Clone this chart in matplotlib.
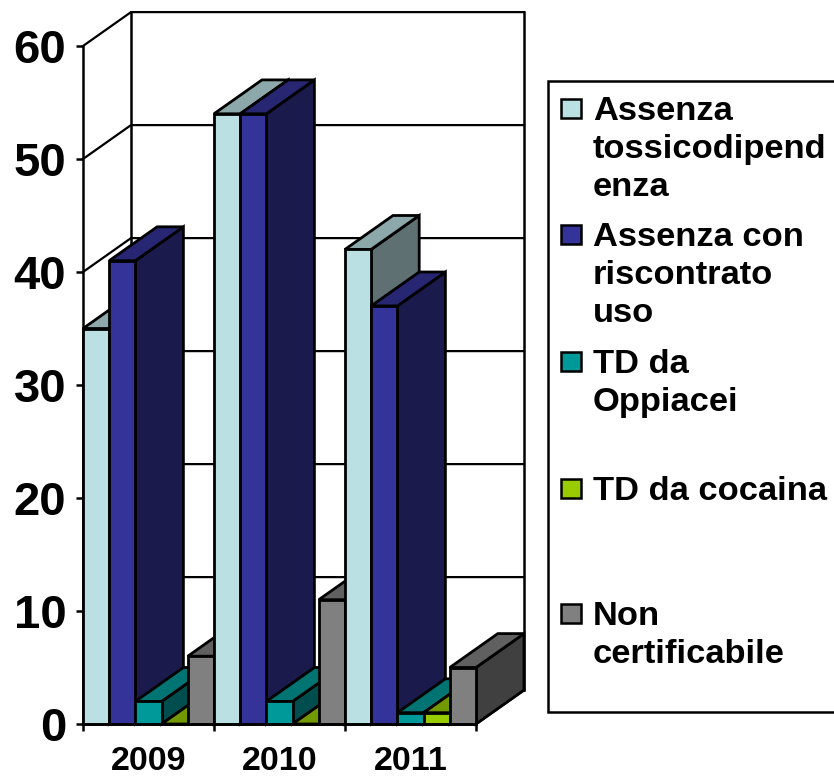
import matplotlib
matplotlib.use("Agg")
import matplotlib.pyplot as plt
from matplotlib.patches import Polygon, Rectangle

plt.rcParams["font.family"] = ["Liberation Sans", "DejaVu Sans"]
plt.rcParams["font.weight"] = "bold"

years = ["2009", "2010", "2011"]
labels = ["Assenza\ntossicodipend\nenza", "Assenza con\nriscontrato\nuso",
          "TD da\nOppiacei", "TD da cocaina", "Non\ncertificabile"]
assenza = [35, 54, 42]
assenza_uso = [41, 54, 37]
oppiacei = [2, 2, 1]
cocaina = [0, 0, 1]
non_cert = [6, 11, 5]
series = [assenza, assenza_uso, oppiacei, cocaina, non_cert]
colors = ["#BBE0E3", "#333399", "#009999", "#99CC00", "#808080"]
yticks = [0, 10, 20, 30, 40, 50, 60]

# oblique depth of the fake 3d box, in data units
dx = 48 / 131
dy = 3.0
bw = 0.2
W, H = 834, 776


def shade(col, f):
    r, g, b = matplotlib.colors.to_rgb(col)
    return (r * f, g * f, b * f)


def bar3d(ax, x, v, col):
    side = [(x + bw, 0), (x + bw + dx, dy), (x + bw + dx, v + dy), (x + bw, v)]
    top = [(x, v), (x + dx, v + dy), (x + bw + dx, v + dy), (x + bw, v)]
    front = [(x, 0), (x + bw, 0), (x + bw, v), (x, v)]
    for pts, c in [(side, shade(col, 0.5)), (top, shade(col, 0.75)), (front, col)]:
        ax.add_patch(Polygon(pts, closed=True, fc=c, ec="black", lw=2,
                             joinstyle="miter", clip_on=False, zorder=3))


fig = plt.figure(figsize=(W / 100, H / 100), dpi=100)
ax = fig.add_axes([83 / W, 1 - 724 / H, 393 / W, 678 / H])
ax.set_xlim(0, 3)
ax.set_ylim(0, 60)
ax.patch.set_visible(False)
for s in ["top", "right"]:
    ax.spines[s].set_visible(False)
ax.spines["left"].set_linewidth(1.8)
ax.spines["bottom"].set_linewidth(1.8)
ax.spines["bottom"].set_zorder(5)

# walls and grid
for v in yticks:
    ax.plot([0, dx, 3 + dx], [v, v + dy, v + dy], color="black", lw=1.6,
            clip_on=False, zorder=1)
ax.plot([dx, dx], [dy, 60 + dy], color="black", lw=1.8, clip_on=False, zorder=1)
ax.plot([3 + dx, 3 + dx], [dy, 60 + dy], color="black", lw=1.8, clip_on=False, zorder=1)
ax.plot([3, 3 + dx], [0, dy], color="black", lw=1.8, clip_on=False, zorder=1)

for i in range(len(years)):
    for j, vals in enumerate(series):
        bar3d(ax, i + j * bw, vals[i], colors[j])

ax.set_yticks(yticks)
ax.tick_params(axis="y", length=5, width=1.8, labelsize=34, pad=7)
ax.set_xticks([0, 1, 2, 3])
ax.set_xticklabels([])
ax.set_xticks([0.5, 1.5, 2.5], labels=years, minor=True)
ax.tick_params(axis="x", which="major", length=5, width=1.8)
ax.tick_params(axis="x", which="minor", length=0, labelsize=24.5, pad=16)

# legend box runs off the right edge, so it is laid out by hand in pixels
lax = fig.add_axes([0, 0, 1, 1])
lax.set_xlim(0, W)
lax.set_ylim(H, 0)
lax.axis("off")
lax.add_patch(Rectangle((548, 81), 320, 631, fc="white", ec="black", lw=1.8))
marks = [109, 235, 362, 489, 614]
for m, c, t in zip(marks, colors, labels):
    lax.add_patch(Rectangle((561, m - 10), 20, 19, fc=c, ec="black", lw=1.8))
    lax.text(593, m - 13, t, fontsize=24.8, fontweight="bold", va="top", ha="left",
             linespacing=1.29)

fig.savefig("out.png", dpi=100)
